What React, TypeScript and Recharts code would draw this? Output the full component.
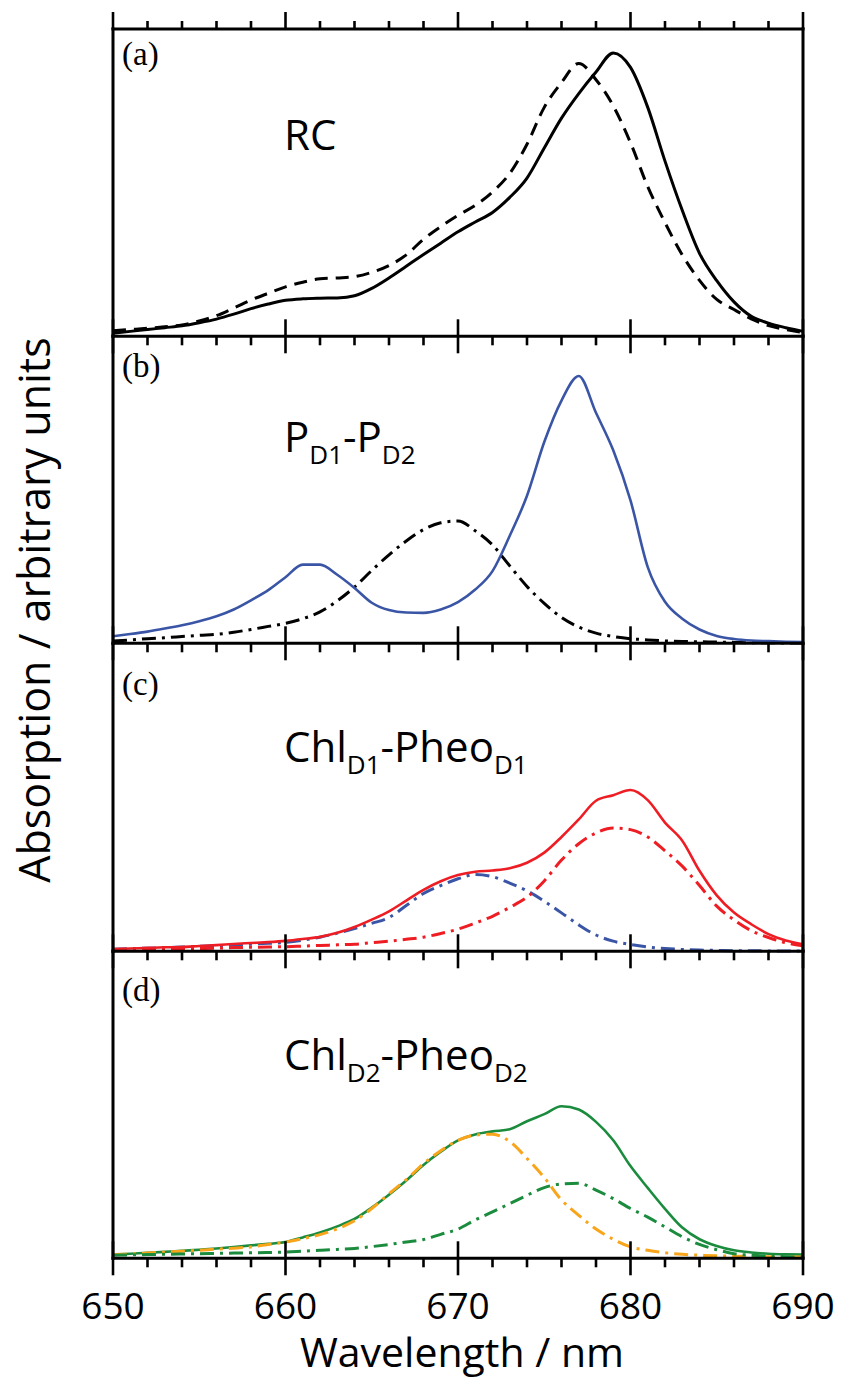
import React from 'react';
import { LineChart, Line, XAxis, YAxis } from 'recharts';

// ---------- data ----------
const WAVELENGTH = [
  650, 651, 652, 653, 654, 655, 656, 657, 658, 659, 660,
  661, 662, 663, 664, 665, 666, 667, 668, 669, 670,
  671, 672, 673, 674, 675, 676, 677, 678, 679, 680,
  681, 682, 683, 684, 685, 686, 687, 688, 689, 690,
];

// (a) RC
const RC_SOLID = [
  1.0, 1.6, 2.2, 2.8, 3.4, 4.4, 5.6, 7.2, 9.0, 10.5, 11.7,
  12.2, 12.4, 12.5, 13.2, 15.6, 19.0, 22.8, 26.6, 30.3, 34.0,
  37.2, 40.3, 45.2, 51.5, 61.3, 71.0, 79.0, 86.0, 92.2, 87.5,
  74.5, 57.0, 41.0, 27.0, 18.1, 11.2, 6.5, 4.3, 2.8, 1.6,
];
const RC_DASHED = [
  1.8, 2.2, 2.6, 3.1, 3.7, 5.0, 6.7, 9.2, 11.8, 14.0, 16.1,
  17.6, 18.7, 19.0, 19.4, 20.8, 23.0, 26.5, 31.6, 35.7, 39.4,
  42.6, 47.0, 53.0, 62.5, 74.5, 82.6, 88.8, 83.5, 75.0, 63.0,
  48.7, 37.0, 26.5, 18.2, 12.0, 8.7, 5.7, 3.5, 2.2, 1.2,
];

// (b) PD1-PD2
const P_PAIR = [
  2.3, 3.0, 3.8, 4.8, 5.9, 7.2, 8.8, 11.0, 14.0, 17.3, 21.5,
  25.6, 25.6, 22.3, 18.0, 13.2, 10.8, 10.0, 9.9, 11.0, 13.4,
  17.5, 23.5, 35.0, 48.0, 65.5, 79.0, 87.0, 75.0, 62.8, 46.5,
  24.8, 13.5, 8.0, 4.5, 2.4, 1.4, 0.9, 0.7, 0.5, 0.4,
];
const P_BAND = [
  0.75, 1.1, 1.5, 1.8, 2.2, 2.6, 2.9, 3.6, 4.5, 5.5, 6.5,
  8.0, 10.2, 13.8, 18.3, 23.7, 28.8, 33.3, 37.0, 39.2, 39.8,
  36.6, 32.0, 25.2, 18.5, 13.0, 8.4, 5.3, 3.3, 2.2, 1.5,
  1.1, 0.8, 0.6, 0.5, 0.4, 0.3, 0.2, 0.2, 0.1, 0.1,
];

// (c) ChlD1-PheoD1
const CHL_D1_PAIR = [
  0.7, 0.9, 1.1, 1.3, 1.4, 1.7, 2.0, 2.4, 2.7, 3.0, 3.4,
  4.0, 4.7, 6.0, 7.9, 10.3, 13.0, 16.5, 20.0, 22.8, 24.8,
  25.9, 26.3, 27.0, 28.8, 32.1, 37.2, 42.9, 49.0, 50.8, 52.5,
  49.2, 41.9, 36.0, 26.2, 18.2, 12.6, 8.8, 5.6, 3.5, 2.3,
];
const CHL_D1_BAND = [
  0.7, 0.9, 1.0, 1.2, 1.4, 1.6, 1.8, 2.0, 2.3, 2.6, 2.9,
  3.6, 4.6, 5.9, 7.4, 9.1, 11.0, 14.9, 18.8, 21.4, 23.6,
  25.0, 24.3, 22.2, 19.7, 16.3, 12.5, 8.6, 5.3, 3.3, 2.2,
  1.4, 0.9, 0.6, 0.4, 0.3, 0.2, 0.2, 0.1, 0.1, 0.1,
];
const PHEO_D1_BAND = [
  0.4, 0.5, 0.6, 0.7, 0.8, 0.9, 1.0, 1.2, 1.3, 1.4, 1.5,
  1.7, 1.9, 2.1, 2.3, 2.8, 3.3, 3.9, 4.6, 5.8, 7.2,
  9.2, 11.4, 14.3, 17.6, 22.9, 29.7, 35.0, 38.5, 40.1, 39.6,
  37.2, 32.7, 27.7, 21.4, 14.7, 10.2, 6.7, 4.5, 2.8, 1.8,
];

// (d) ChlD2-PheoD2
const CHL_D2_PAIR = [
  1.2, 1.5, 1.8, 2.1, 2.4, 2.8, 3.2, 3.7, 4.2, 4.7, 5.3,
  6.8, 8.4, 10.4, 12.8, 16.5, 20.7, 25.3, 30.4, 34.7, 38.4,
  40.3, 41.3, 42.0, 44.6, 46.9, 49.5, 48.4, 44.4, 38.4, 30.0,
  22.9, 16.1, 10.0, 6.2, 4.0, 2.6, 1.9, 1.5, 1.3, 1.2,
];
const CHL_D2_BAND = [
  1.2, 1.4, 1.7, 2.0, 2.3, 2.6, 3.0, 3.3, 3.7, 4.5, 5.3,
  6.4, 7.7, 9.6, 12.2, 16.2, 21.0, 25.6, 30.8, 35.0, 38.4,
  40.1, 40.4, 38.0, 32.5, 26.3, 19.0, 14.0, 9.5, 6.2, 3.7,
  2.6, 1.8, 1.3, 1.0, 0.8, 0.7, 0.6, 0.5, 0.4, 0.4,
];
const PHEO_D2_BAND = [
  1.0, 1.1, 1.2, 1.3, 1.4, 1.5, 1.6, 1.7, 1.8, 1.9, 2.0,
  2.3, 2.6, 2.9, 3.2, 3.8, 4.5, 5.3, 6.1, 7.8, 9.5,
  12.5, 15.1, 17.8, 20.5, 23.0, 24.2, 24.4, 22.2, 19.4, 16.2,
  13.4, 10.2, 7.0, 4.5, 2.8, 1.5, 1.0, 0.7, 0.5, 0.4,
];

const X_TICKS = [650, 652, 654, 656, 658, 660, 662, 664, 666, 668, 670, 672, 674, 676, 678, 680, 682, 684, 686, 688, 690];
const MAJOR_TICK_LABELS = [650, 660, 670, 680, 690];

// ---------- styling ----------
const SANS = "'Open Sans', 'Noto Sans', sans-serif";
const SERIF = "'Liberation Serif', 'DejaVu Serif', serif";
const W = 846;
const PLOT_LEFT = 113;
const PLOT_RIGHT = 803;
const PANEL_TOP = 29;
const PANEL_H = 307.3;
const AX = 1; // thickness reserved by each (invisible) axis box

const BLUE = '#3a55a5';
const RED = '#ee1d24';
const GREEN = '#1b8c3d';
const ORANGE = '#f8a51b';
const DASH = '13 8';
const DASHDOT = '14 6 3 6';

type Spec = { key: string; values: number[]; color: string; dash?: string; width: number };

const PANELS: { label: string; specs: Spec[] }[] = [
  {
    label: '(a)',
    specs: [
      { key: 'rcDashed', values: RC_DASHED, color: '#000', dash: DASH, width: 3 },
      { key: 'rcSolid', values: RC_SOLID, color: '#000', width: 3 },
    ],
  },
  {
    label: '(b)',
    specs: [
      { key: 'pBand', values: P_BAND, color: '#000', dash: DASHDOT, width: 3 },
      { key: 'pPair', values: P_PAIR, color: BLUE, width: 2.6 },
    ],
  },
  {
    label: '(c)',
    specs: [
      { key: 'chlBand', values: CHL_D1_BAND, color: BLUE, dash: DASHDOT, width: 3 },
      { key: 'pheoBand', values: PHEO_D1_BAND, color: RED, dash: DASHDOT, width: 3 },
      { key: 'pair', values: CHL_D1_PAIR, color: RED, width: 2.6 },
    ],
  },
  {
    label: '(d)',
    specs: [
      { key: 'pair', values: CHL_D2_PAIR, color: GREEN, width: 2.6 },
      { key: 'chlBand', values: CHL_D2_BAND, color: ORANGE, dash: DASHDOT, width: 3 },
      { key: 'pheoBand', values: PHEO_D2_BAND, color: GREEN, dash: DASHDOT, width: 3 },
    ],
  },
];

function buildRows(specs: Spec[]) {
  return WAVELENGTH.map((wl, i) => {
    const row: Record<string, number> = { wl };
    specs.forEach((s) => {
      row[s.key] = s.values[i];
    });
    return row;
  });
}

const BottomTick = (props: any) => {
  const { x, y, payload, showLabel } = props;
  const v = payload.value as number;
  const major = MAJOR_TICK_LABELS.includes(v);
  return (
    <g>
      <line
        x1={x}
        x2={x}
        y1={major ? y - 17 : y}
        y2={major ? y + 17 : y + 9}
        stroke="#000"
        strokeWidth={2.6}
      />
      {showLabel && major && (
        <text x={x} y={y + 61} textAnchor="middle" fontSize={37} fontFamily={SANS} fill="#000">
          {v}
        </text>
      )}
    </g>
  );
};

const TopTick = (props: any) => {
  const { x, y, payload } = props;
  const v = payload.value as number;
  const major = MAJOR_TICK_LABELS.includes(v);
  return <line x1={x} x2={x} y1={y} y2={major ? y - 17 : y - 8} stroke="#000" strokeWidth={2.6} />;
};

const AXIS_LINE = { stroke: '#000', strokeWidth: 3, strokeLinecap: 'square' as const };

function Panel({ index, specs }: { index: number; specs: Spec[] }) {
  const first = index === 0;
  const last = index === PANELS.length - 1;
  const mt = 30;
  const mb = last ? 122 : 30;
  const topAxis = first ? AX : 0;
  const height = PANEL_H + mt + mb + AX + topAxis;
  const top = PANEL_TOP + index * PANEL_H - mt - topAxis;
  return (
    <div style={{ position: 'absolute', left: 0, top, width: W, height }}>
      <LineChart
        width={W}
        height={height}
        data={buildRows(specs)}
        margin={{ top: mt, bottom: mb, left: PLOT_LEFT - AX, right: W - PLOT_RIGHT - AX }}
      >
        <XAxis
          xAxisId="b"
          dataKey="wl"
          type="number"
          domain={[650, 690]}
          ticks={X_TICKS}
          interval={0}
          height={AX}
          tickSize={0}
          tickMargin={0}
          tickLine={false}
          axisLine={AXIS_LINE}
          tick={(p: any) => <BottomTick {...p} showLabel={last} />}
        />
        {first && (
          <XAxis
            xAxisId="t"
            orientation="top"
            dataKey="wl"
            type="number"
            domain={[650, 690]}
            ticks={X_TICKS}
            interval={0}
            height={AX}
            tickSize={0}
            tickMargin={0}
            tickLine={false}
            axisLine={AXIS_LINE}
            tick={(p: any) => <TopTick {...p} />}
          />
        )}
        <YAxis yAxisId="l" domain={[0, 100]} width={AX} tick={false} tickLine={false} axisLine={AXIS_LINE} />
        <YAxis
          yAxisId="r"
          orientation="right"
          domain={[0, 100]}
          width={AX}
          tick={false}
          tickLine={false}
          axisLine={AXIS_LINE}
        />
        {specs.map((s) => (
          <Line
            key={s.key}
            xAxisId="b"
            yAxisId="l"
            type="monotone"
            dataKey={s.key}
            stroke={s.color}
            strokeWidth={s.width}
            strokeDasharray={s.dash}
            dot={false}
            activeDot={false}
            isAnimationActive={false}
          />
        ))}
      </LineChart>
    </div>
  );
}

export default function App() {
  const labelBaselines = [65, 377, 695, 1001];
  return (
    <div style={{ position: 'absolute', left: 0, top: 0, width: W, height: 1380, background: '#fff', overflow: 'hidden' }}>
      {PANELS.map((p, i) => (
        <Panel key={p.label} index={i} specs={p.specs} />
      ))}
      <svg
        width={W}
        height={1380}
        style={{ position: 'absolute', left: 0, top: 0, pointerEvents: 'none' }}
      >
        {PANELS.map((p, i) => (
          <text key={p.label} x={122} y={labelBaselines[i]} fontFamily={SERIF} fontSize={33} fill="#000">
            {p.label}
          </text>
        ))}
        <text x={284} y={150} fontFamily={SANS} fontSize={42} fill="#000">RC</text>
        <text x={284} y={452} fontFamily={SANS} fontSize={42} fill="#000">
          P
          <tspan fontSize={26} dy={12}>D1</tspan>
          <tspan dy={-12}>-P</tspan>
          <tspan fontSize={26} dy={12}>D2</tspan>
        </text>
        <text x={284} y={762} fontFamily={SANS} fontSize={42} fill="#000">
          Chl
          <tspan fontSize={26} dy={12}>D1</tspan>
          <tspan dy={-12}>-Pheo</tspan>
          <tspan fontSize={26} dy={12}>D1</tspan>
        </text>
        <text x={284} y={1070} fontFamily={SANS} fontSize={42} fill="#000">
          Chl
          <tspan fontSize={26} dy={12}>D2</tspan>
          <tspan dy={-12}>-Pheo</tspan>
          <tspan fontSize={26} dy={12}>D2</tspan>
        </text>
        <text
          x={0}
          y={0}
          transform="translate(50 610) rotate(-90)"
          textAnchor="middle"
          fontFamily={SANS}
          fontSize={43}
          fill="#000"
        >
          Absorption / arbitrary units
        </text>
        <text x={462} y={1367} textAnchor="middle" fontFamily={SANS} fontSize={41} fill="#000">
          Wavelength / nm
        </text>
      </svg>
    </div>
  );
}
